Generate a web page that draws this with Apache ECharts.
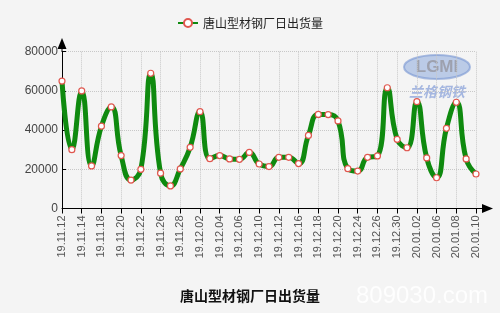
<!DOCTYPE html>
<html>
<head>
<meta charset="utf-8">
<script src="https://cdn.jsdelivr.net/npm/echarts@6/dist/echarts.min.js"></script>
<style>
html,body{margin:0;padding:0;background:#f4f4f4;}
#c{width:500px;height:313px;}
</style>
</head>
<body>
<div id="c"></div>
<script>
const seriesName = '唐山型材钢厂日出货量';
const titleText = '唐山型材钢厂日出货量';
const categories = ['19.11.12','19.11.13','19.11.14','19.11.15','19.11.18','19.11.19','19.11.20','19.11.21','19.11.22','19.11.25',
'19.11.26','19.11.27','19.11.28','19.11.29','19.12.02','19.12.03','19.12.04','19.12.05','19.12.06','19.12.09',
'19.12.10','19.12.11','19.12.12','19.12.13','19.12.16','19.12.17','19.12.18','19.12.19','19.12.20','19.12.23',
'19.12.24','19.12.25','19.12.26','19.12.27','19.12.30','19.12.31','20.01.02','20.01.03','20.01.06','20.01.07',
'20.01.08','20.01.09','20.01.10'];
const values = [65000,30000,60000,21700,42000,51800,27000,14500,20000,69000,
18000,11500,20200,31200,49400,25400,27000,25300,25100,28600,
22700,21400,26100,26100,22900,37300,48000,47900,44700,20300,
19100,26100,26800,61600,35300,31000,54500,25800,15700,40900,
54200,25300,17600];
const yTicks = [0,20000,40000,60000,80000];

const chart = echarts.init(document.getElementById('c'), null, {renderer:'canvas'});
const latin = '"Liberation Sans", Arial, "Noto Sans CJK SC", sans-serif';
const cjk = '"Noto Sans CJK SC", "Liberation Sans", sans-serif';
chart.setOption({
  backgroundColor:'#f4f4f4',
  animation:false,
  title:{
    text:titleText, left:'center', top:284,
    textStyle:{fontSize:14,fontWeight:'bold',color:'#111',fontFamily:cjk}
  },
  legend:{
    top:12, left:'center', itemWidth:20, itemHeight:10, itemGap:8,
    textStyle:{fontSize:12,color:'#222',fontFamily:cjk},
    data:[seriesName]
  },
  grid:{left:62,right:24,top:51.7,bottom:104.5},
  xAxis:{
    type:'category', data:categories, boundaryGap:false,
    axisLine:{lineStyle:{color:'#000',width:1}},
    axisTick:{show:true,interval:1,length:5,lineStyle:{color:'#000'}},
    axisLabel:{interval:1,rotate:90,fontSize:11,color:'#555',margin:7,fontFamily:latin},
    splitLine:{show:true,interval:1,lineStyle:{color:'#c8c8c8',type:'dotted',width:1}}
  },
  yAxis:{
    type:'value', min:yTicks[0], max:yTicks[yTicks.length-1], interval:yTicks[1]-yTicks[0],
    axisLine:{show:true,lineStyle:{color:'#000',width:1}},
    axisTick:{show:true,inside:true,length:4,lineStyle:{color:'#000'}},
    axisLabel:{fontSize:12,color:'#444',margin:4,fontFamily:latin,formatter:function(v){return String(v);}},
    splitLine:{show:true,lineStyle:{color:'#c8c8c8',type:'dotted',width:1}}
  },
  graphic:[
    {type:'ellipse',shape:{cx:437,cy:67,rx:33,ry:12},style:{fill:'rgba(140,170,220,0.55)',stroke:'rgba(120,150,210,0.6)',lineWidth:2},z:-1,silent:true},
    {type:'text',x:437,y:67,style:{text:'LGMI',fill:'rgba(150,150,160,0.8)',font:'bold 17px "Liberation Sans", sans-serif',align:'center',verticalAlign:'middle'},z:-1,silent:true},
    {type:'text',x:437,y:92,style:{text:'兰格钢铁',fill:'rgba(110,140,210,0.6)',font:'italic bold 14px "Noto Sans CJK SC", sans-serif',align:'center',verticalAlign:'middle'},z:-1,silent:true},
    {type:'text',x:422,y:296,style:{text:'809030.com',fill:'rgba(255,255,255,0.85)',font:'24px "Liberation Sans", sans-serif',align:'center',verticalAlign:'middle'},z:100,silent:true},
    {type:'line',shape:{x1:62,y1:52,x2:62,y2:46},style:{stroke:'#000',lineWidth:1},z:50,silent:true},
    {type:'polygon',shape:{points:[[62,38],[57.5,49],[66.5,49]]},style:{fill:'#000'},z:50,silent:true},
    {type:'line',shape:{x1:476,y1:208.5,x2:484,y2:208.5},style:{stroke:'#000',lineWidth:1},z:50,silent:true},
    {type:'polygon',shape:{points:[[493,208.5],[482,204],[482,213]]},style:{fill:'#000'},z:50,silent:true}
  ],
  series:[{
    name:seriesName, type:'line', data:values, smooth:true,
    symbol:'circle', symbolSize:6, showAllSymbol:true,
    lineStyle:{color:'#0f8a0f',width:5},
    itemStyle:{color:'#ffffff',borderColor:'#e0574f',borderWidth:1.2}
  }]
});
</script>
</body>
</html>
